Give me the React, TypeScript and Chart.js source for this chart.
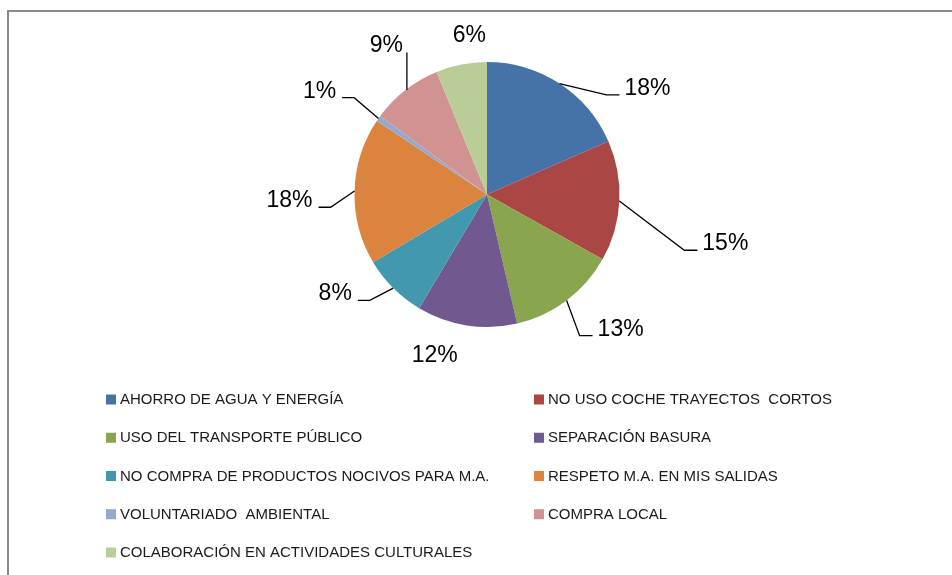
import React, { useEffect, useRef } from "react";
import { Chart, registerables } from "chart.js";

Chart.register(...registerables);

const categories = [
  "AHORRO DE AGUA Y ENERGÍA",
  "NO USO COCHE TRAYECTOS  CORTOS",
  "USO DEL TRANSPORTE PÚBLICO",
  "SEPARACIÓN BASURA",
  "NO COMPRA DE PRODUCTOS NOCIVOS PARA M.A.",
  "RESPETO M.A. EN MIS SALIDAS",
  "VOLUNTARIADO  AMBIENTAL",
  "COMPRA LOCAL",
  "COLABORACIÓN EN ACTIVIDADES CULTURALES",
];

const values = [18.4, 14.7, 13.2, 12.2, 7.9, 17.9, 0.7, 8.7, 6.2];

const colors = [
  "#4572A7",
  "#AA4643",
  "#89A54E",
  "#71588F",
  "#4198AF",
  "#DB843D",
  "#93A9CF",
  "#D19392",
  "#B9CD96",
];

// label placement relative to the slice's outer-edge midpoint (layout config)
const labelLayout = [
  { dx: 88, dy: 3, leader: "right" },
  { dx: 106, dy: 41, leader: "right" },
  { dx: 54, dy: 27, leader: "right" },
  { dx: -32, dy: 28, leader: "none" },
  { dx: -58, dy: 4, leader: "left" },
  { dx: -65, dy: 8, leader: "left" },
  { dx: -59, dy: -29, leader: "left" },
  { dx: -19, dy: -46, leader: "up" },
  { dx: 8, dy: -31, leader: "none" },
];

const LABEL_FONT = "23px 'Liberation Sans', Arial, sans-serif";
const LEGEND_FONT = "15px 'Liberation Sans', Arial, sans-serif";

const pieLabels = {
  id: "pieLabels",
  afterDatasetsDraw(chart: any) {
    const ctx = chart.ctx;
    const meta = chart.getDatasetMeta(0);
    const data = chart.data.datasets[0].data as number[];
    const total = data.reduce((a, b) => a + b, 0);
    ctx.save();
    ctx.font = LABEL_FONT;
    ctx.fillStyle = "#000";
    ctx.strokeStyle = "#000";
    ctx.lineWidth = 1.3;
    ctx.textBaseline = "alphabetic";
    ctx.textAlign = "left";
    meta.data.forEach((arc: any, i: number) => {
      const p = arc.getProps(["x", "y", "startAngle", "endAngle", "outerRadius"], true);
      const mid = (p.startAngle + p.endAngle) / 2;
      const ex = p.x + Math.cos(mid) * p.outerRadius;
      const ey = p.y + Math.sin(mid) * p.outerRadius;
      const lay = labelLayout[i];
      const text = Math.round((data[i] / total) * 100) + "%";
      const w = ctx.measureText(text).width;
      const cx = ex + lay.dx;
      const cy = ey + lay.dy;
      const left = cx - w / 2;
      const baseline = cy + 8.3;
      ctx.fillText(text, left, baseline);
      ctx.beginPath();
      if (lay.leader === "right") {
        const ax = left - 5;
        const elx = ax - 13;
        ctx.moveTo(ex, ey);
        ctx.lineTo(elx, baseline);
        ctx.lineTo(ax, baseline);
        ctx.stroke();
      } else if (lay.leader === "left") {
        const ax = left + w + 6;
        const elx = ax + 12;
        ctx.moveTo(ex, ey);
        ctx.lineTo(elx, baseline);
        ctx.lineTo(ax, baseline);
        ctx.stroke();
      } else if (lay.leader === "up") {
        ctx.moveTo(ex + 1.5, ey);
        ctx.lineTo(ex + 1.5, baseline);
        ctx.stroke();
      }
    });
    ctx.restore();
  },
};

const gridLegend = {
  id: "gridLegend",
  afterDraw(chart: any) {
    const ctx = chart.ctx;
    const labels = chart.data.labels as string[];
    const bg = chart.data.datasets[0].backgroundColor as string[];
    ctx.save();
    ctx.font = LEGEND_FONT;
    ctx.textBaseline = "middle";
    ctx.textAlign = "left";
    labels.forEach((lab, i) => {
      const col = i % 2;
      const row = Math.floor(i / 2);
      const bx = col === 0 ? 106 : 534;
      const yc = 399.5 + row * 38.25;
      ctx.fillStyle = bg[i];
      ctx.fillRect(bx, yc - 5, 10, 10);
      ctx.fillStyle = "#1a1a1a";
      ctx.fillText(lab, bx + 14, yc + 0.5);
    });
    ctx.restore();
  },
};

export default function App() {
  const ref = useRef<HTMLCanvasElement | null>(null);
  useEffect(() => {
    if (!ref.current) return;
    const chart = new Chart(ref.current, {
      type: "pie",
      data: {
        labels: categories,
        datasets: [
          {
            data: values,
            backgroundColor: colors,
            borderWidth: 0,
          },
        ],
      },
      options: {
        responsive: false,
        animation: false,
        layout: { padding: { left: 354.5, right: 332.5, top: 62, bottom: 248 } },
        plugins: {
          legend: { display: false },
          tooltip: { enabled: false },
        },
      },
      plugins: [pieLabels, gridLegend],
    });
    return () => chart.destroy();
  }, []);
  return (
    <div style={{ position: "fixed", left: 0, top: 0, width: 952, height: 575, background: "#fff", overflow: "hidden" }}>
      <div
        style={{
          position: "absolute",
          left: 7,
          top: 10,
          width: 1000,
          height: 700,
          border: "2px solid #8a8a8a",
          boxSizing: "border-box",
        }}
      />
      <canvas ref={ref} width={952} height={575} style={{ position: "absolute", left: 0, top: 0 }} />
    </div>
  );
}
